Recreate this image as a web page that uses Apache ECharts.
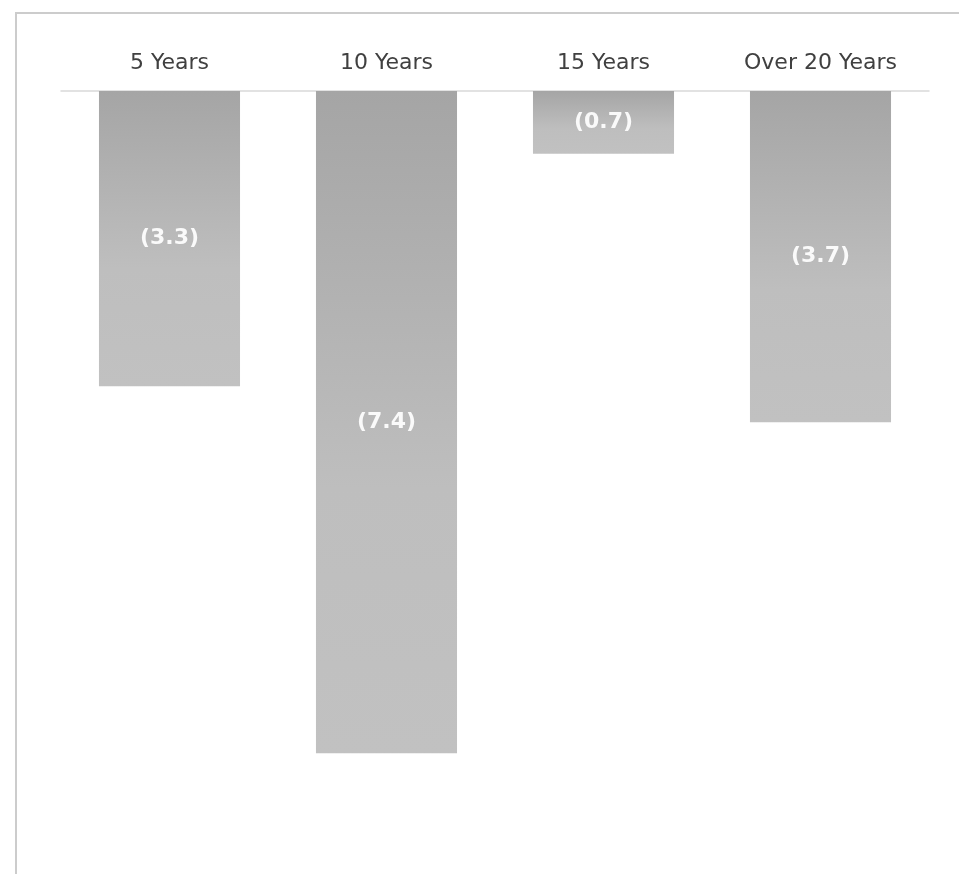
<!DOCTYPE html>
<html>
<head>
<meta charset="utf-8">
<script src="https://cdn.jsdelivr.net/npm/echarts@6/dist/echarts.min.js"></script>
<style>
  body { margin: 0; background: #ffffff; overflow: hidden; }
  /* frame: only left and top edges fall inside the window */
  #frame {
    position: absolute; left: 15px; top: 12px;
    width: 1200px; height: 1200px;
    border: 2px solid #cccccc;
  }
  #main { position: absolute; left: 0; top: 0; width: 959px; height: 874px; }
</style>
</head>
<body>
<div id="frame"></div>
<div id="main"></div>
<script>
// categories across the top
const categories = ['5 Years', '10 Years', '15 Years', 'Over 20 Years'];
// values (negative, shown in brackets)
const values = [-3.3, -7.4, -0.7, -3.7];

const chart = echarts.init(document.getElementById('main'));

const option = {
  animation: false,
  grid: { left: 61, right: 30, top: 91, bottom: 67 },
  xAxis: {
    type: 'category',
    position: 'top',
    data: categories,
    axisLine: { lineStyle: { color: '#d9d9d9', width: 1.5 } },
    axisTick: { show: false },
    axisLabel: {
      color: '#404040',
      fontFamily: 'DejaVu Sans',
      fontSize: 22,
      margin: 17
    }
  },
  yAxis: {
    type: 'value',
    min: -8,
    max: 0,
    show: false,
    splitLine: { show: false }
  },
  series: [
    {
      type: 'bar',
      data: values,
      barCategoryGap: '35%',
      itemStyle: {
        color: new echarts.graphic.LinearGradient(0, 0, 0, 1, [
          { offset: 0, color: '#a5a5a5' },
          { offset: 0.6, color: '#bebebe' },
          { offset: 1, color: '#c1c1c1' }
        ])
      },
      label: {
        show: true,
        position: 'inside',
        color: 'rgba(255,255,255,0.92)',
        fontFamily: 'DejaVu Sans',
        fontWeight: 'bold',
        fontSize: 22,
        formatter: function (p) {
          return '(' + Math.abs(p.value).toFixed(1) + ')';
        }
      }
    }
  ]
};

chart.setOption(option);
</script>
</body>
</html>
